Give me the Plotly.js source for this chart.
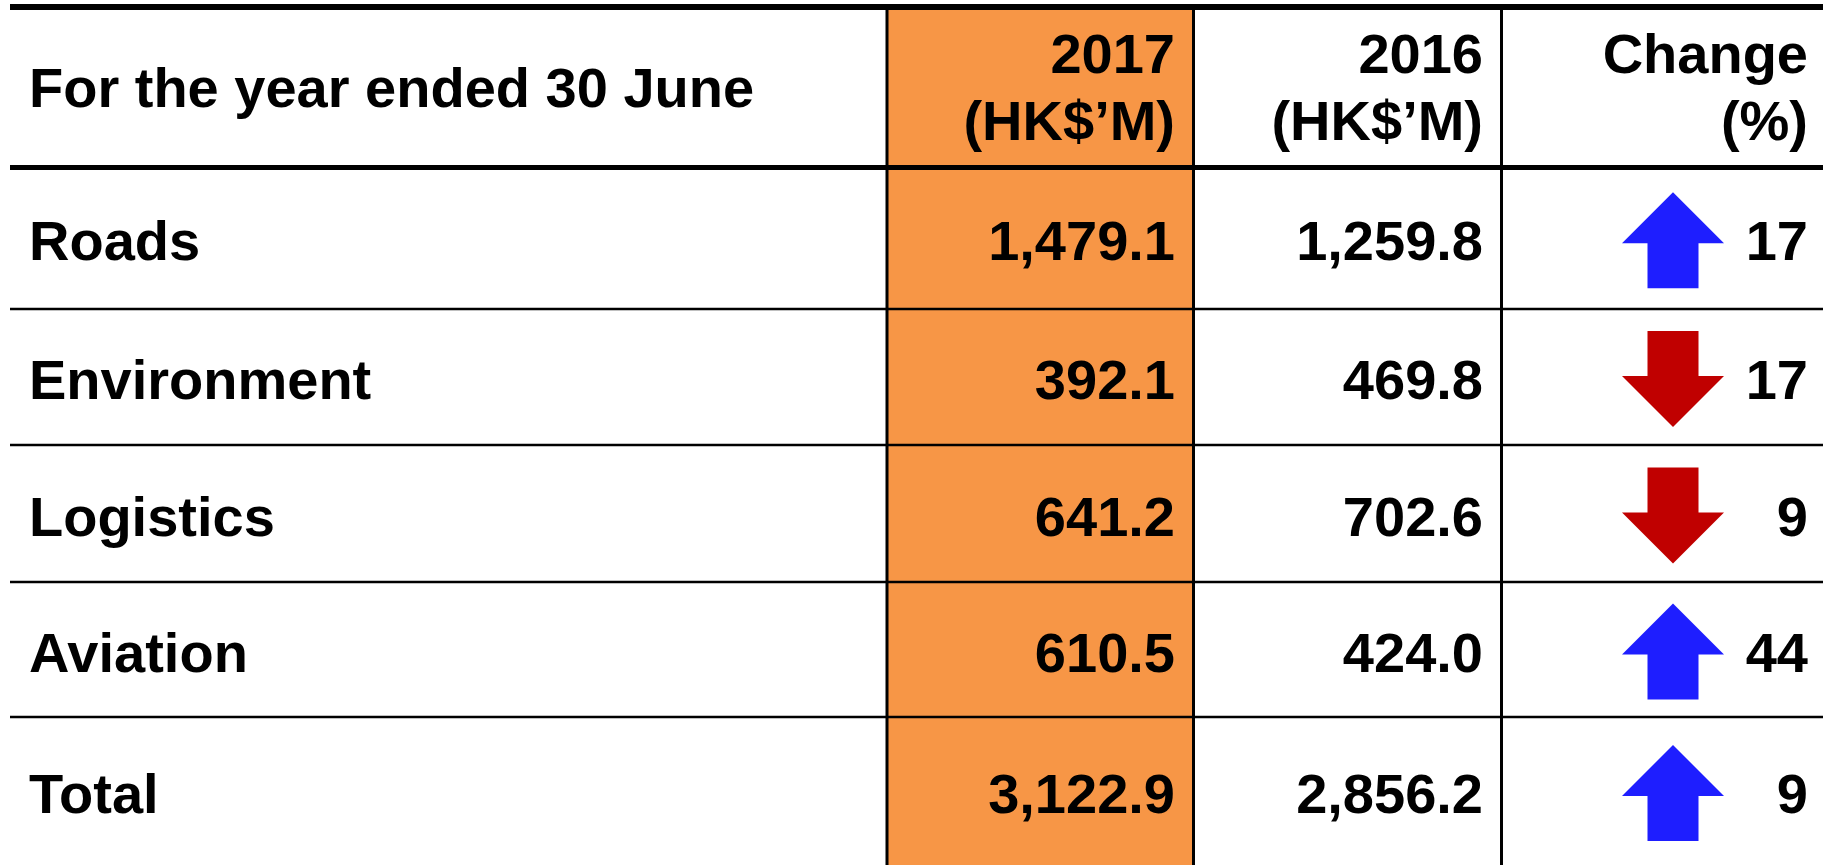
<!DOCTYPE html>
<html>
<head>
<meta charset="utf-8">
<script src="https://cdn.plot.ly/plotly-3.0.1.min.js"></script>
<style>
  html, body { margin: 0; padding: 0; background: #ffffff; }
  #chart { width: 1829px; height: 865px; }
</style>
</head>
<body>
<div id="chart"></div>
<script>
// ---------- DATA ----------
const headerLabel = 'For the year ended 30 June';
const columnYears = ['2017', '2016', 'Change'];
const columnUnits = ['(HK$\u2019M)', '(HK$\u2019M)', '(%)'];
const categories = ['Roads', 'Environment', 'Logistics', 'Aviation', 'Total'];
const values2017 = [1479.1, 392.1, 641.2, 610.5, 3122.9];
const values2016 = [1259.8, 469.8, 702.6, 424.0, 2856.2];
const changePct = [17, -17, -9, 44, 9];

// ---------- LAYOUT CONSTANTS (pixel space) ----------
const W = 1829, H = 865;
const TOP_LINE = 7, HEADER_LINE = 167.5;
const ROW_LINES = [309, 445, 582, 717];
const ROW_EDGES = [HEADER_LINE].concat(ROW_LINES).concat([H]);
const LINE_X0 = 10, LINE_X1 = 1823;
const ORANGE_X0 = 887, ORANGE_X1 = 1193.5, COL3_X = 1501.5;
const LABEL_X = 29, C2017_X = 1175, C2016_X = 1483, CHG_X = 1808;
const ARROW_X = 1673;
const HEADER_L1 = 53, HEADER_L2 = 119.5, HEADER_MID = 87;
const TEXT_NUDGE = 6; // compensates plotly's text baseline placement
const FONT = {family: '"Liberation Sans", Arial, sans-serif', size: 56, color: '#000000', weight: 'bold'};

function rowCenter(i) {
  return (ROW_EDGES[i] + ROW_EDGES[i + 1]) / 2 + 2;
}
function fmt(v) {
  return v.toLocaleString('en-US', {minimumFractionDigits: 1, maximumFractionDigits: 1});
}

const rowsY = categories.map((c, i) => rowCenter(i));

const traces = [];
function textTrace(xs, ys, texts, pos) {
  return {
    type: 'scatter', mode: 'text', x: xs, y: ys.map(y => y + TEXT_NUDGE), text: texts,
    textposition: pos, textfont: FONT, hoverinfo: 'skip', showlegend: false, cliponaxis: false
  };
}

// header texts
traces.push(textTrace([LABEL_X], [HEADER_MID], [headerLabel], 'middle right'));
traces.push(textTrace([C2017_X, C2016_X, CHG_X], [HEADER_L1, HEADER_L1, HEADER_L1], columnYears, 'middle left'));
traces.push(textTrace([C2017_X, C2016_X, CHG_X], [HEADER_L2, HEADER_L2, HEADER_L2], columnUnits, 'middle left'));
// body texts
traces.push(textTrace(categories.map(() => LABEL_X), rowsY, categories, 'middle right'));
traces.push(textTrace(categories.map(() => C2017_X), rowsY, values2017.map(fmt), 'middle left'));
traces.push(textTrace(categories.map(() => C2016_X), rowsY, values2016.map(fmt), 'middle left'));
traces.push(textTrace(categories.map(() => CHG_X), rowsY, changePct.map(v => String(Math.abs(v))), 'middle left'));

// arrows (block arrows built around each row's centre)
const HEAD_HALF = 51, SHAFT_HALF = 25.5, HALF_LEN = 48, HEAD_BASE = 3;
function arrowPts(cx, cy, up) {
  const s = up ? 1 : -1;
  const rel = [[0, -HALF_LEN], [HEAD_HALF, HEAD_BASE], [SHAFT_HALF, HEAD_BASE], [SHAFT_HALF, HALF_LEN],
               [-SHAFT_HALF, HALF_LEN], [-SHAFT_HALF, HEAD_BASE], [-HEAD_HALF, HEAD_BASE], [0, -HALF_LEN]];
  return rel.map(p => [cx + p[0], cy + s * p[1]]);
}
function arrowTrace(up, color) {
  const xs = [], ys = [];
  changePct.forEach((v, i) => {
    if ((v > 0) === up) {
      arrowPts(ARROW_X, rowsY[i], up).forEach(p => { xs.push(p[0]); ys.push(p[1]); });
      xs.push(null); ys.push(null);
    }
  });
  return {type: 'scatter', mode: 'lines', x: xs, y: ys, fill: 'toself', fillcolor: color,
          line: {width: 0, color: color}, hoverinfo: 'skip', showlegend: false};
}
traces.push(arrowTrace(true, '#1E1EFF'));
traces.push(arrowTrace(false, '#C00000'));

// ---------- SHAPES ----------
const shapes = [];
shapes.push({type: 'rect', xref: 'x', yref: 'y', x0: ORANGE_X0, x1: ORANGE_X1, y0: TOP_LINE, y1: H,
             fillcolor: '#F79646', line: {width: 0}, layer: 'below'});
[ORANGE_X0, ORANGE_X1, COL3_X].forEach(x => shapes.push({type: 'line', xref: 'x', yref: 'y',
             x0: x, x1: x, y0: TOP_LINE, y1: H, line: {color: '#000', width: 3}}));
shapes.push({type: 'line', xref: 'x', yref: 'y', x0: LINE_X0, x1: LINE_X1, y0: TOP_LINE, y1: TOP_LINE,
             line: {color: '#000', width: 6}});
shapes.push({type: 'line', xref: 'x', yref: 'y', x0: LINE_X0, x1: LINE_X1, y0: HEADER_LINE, y1: HEADER_LINE,
             line: {color: '#000', width: 5}});
ROW_LINES.forEach(y => shapes.push({type: 'line', xref: 'x', yref: 'y', x0: LINE_X0, x1: LINE_X1, y0: y, y1: y,
             line: {color: '#000', width: 2.5}}));

const layout = {
  width: W, height: H,
  margin: {l: 0, r: 0, t: 0, b: 0, pad: 0},
  paper_bgcolor: '#ffffff', plot_bgcolor: '#ffffff',
  xaxis: {range: [0, W], visible: false, fixedrange: true},
  yaxis: {range: [H, 0], visible: false, fixedrange: true},
  shapes: shapes,
  showlegend: false
};

Plotly.newPlot('chart', traces, layout, {staticPlot: true, displayModeBar: false});
</script>
</body>
</html>
